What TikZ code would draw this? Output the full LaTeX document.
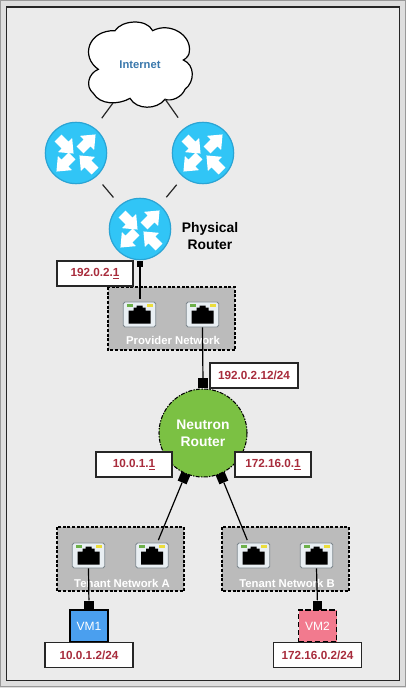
\documentclass[tikz,border=0pt]{standalone}
\usepackage{fontspec}
\setmainfont{Liberation Sans}
\definecolor{pagebg}{HTML}{DEDEDE}
\definecolor{panelbg}{HTML}{EBEBEB}
\definecolor{netbg}{HTML}{BBBBBB}
\definecolor{routerfill}{HTML}{31C5F6}
\definecolor{routerline}{HTML}{2AA4D4}
\definecolor{neutronfill}{HTML}{7BC143}
\definecolor{ipred}{HTML}{A82C3C}
\definecolor{inetblue}{HTML}{3A78AC}
\definecolor{vmblue}{HTML}{4A9FEF}
\definecolor{vmpink}{HTML}{F27A8E}
\definecolor{portfill}{HTML}{E9EFF3}
\definecolor{portline}{HTML}{7C868C}
\definecolor{ledgreen}{HTML}{6DB04A}
\definecolor{ledyellow}{HTML}{EBDD3C}
\tikzset{
  routernode/.style={circle,fill=routerfill,draw=routerline,line width=.9pt,minimum size=46pt,inner sep=0pt},
  neutronnode/.style={circle,fill=neutronfill,draw=black,line width=.8pt,dash pattern=on 3pt off 1pt on 1pt off 1pt,minimum size=66pt,inner sep=0pt},
  neutrontext/.style={font=\bfseries\fontsize{10.4pt}{12.6pt}\selectfont,text=white,align=center},
  iplabel/.style={draw=black!85,fill=white,line width=.9pt,minimum width=#1,minimum height=18.8pt,inner sep=0pt,font=\bfseries\fontsize{8.8pt}{10pt}\selectfont,text=ipred},
  iplabel/.default=57pt,
  netbox/.style={draw=black,fill=netbg,line width=.9pt,dash pattern=on 2.2pt off 1.3pt},
  nettext/.style={font=\bfseries\fontsize{8.5pt}{10pt}\selectfont,text=white},
  portbox/.style={draw=portline,fill=portfill,line width=.6pt,rounded corners=1.4pt,minimum width=24.5pt,minimum height=18.8pt,inner sep=0pt},
  wire/.style={draw=black,line width=.9pt},
  thinwire/.style={draw=black!85,line width=.9pt},
  sqlarge/.style={fill=black,minimum size=7.2pt,inner sep=0pt},
  sqsmall/.style={fill=black,minimum size=4.4pt,inner sep=0pt},
  vmbox/.style={draw=black,line width=.85pt,minimum width=28.5pt,minimum height=24pt,inner sep=0pt,font=\fontsize{9pt}{10pt}\selectfont,text=white},
  boldblack/.style={font=\bfseries\fontsize{10.4pt}{12.8pt}\selectfont,align=center},
}
\newcommand{\routerat}[3]{%
  \node[routernode] (#1) at (#2,#3) {};
  \begin{scope}[shift={(#2,#3)}]
    \foreach \tx/\ty/\rr in {-18/-15/-45, 4/-3/45, -4/3/-135, 19/18/135}{
      \begin{scope}[shift={(\tx,\ty)},rotate=\rr]
        \fill[white] (0,-4.8) -- (10,-4.8) -- (10,-10) -- (22,0) -- (10,10) -- (10,4.8) -- (0,4.8) -- cycle;
      \end{scope}}
  \end{scope}}
\newcommand{\portat}[3]{%
  \node[portbox] (#1) at (#2,#3) {};
  \begin{scope}[shift={(#2,#3)}]
    \fill[ledgreen] (-13,-11) rectangle (-7,-8);
    \fill[ledyellow] (7,-11) rectangle (13,-8);
    \fill[black] (-11,9) -- (-11,-4) -- (-6,-4) -- (-6,-7) -- (-3,-7) -- (-3,-9) -- (3,-9) -- (3,-7) -- (6,-7) -- (6,-4) -- (11,-4) -- (11,9) -- cycle;
  \end{scope}}
\begin{document}
\begin{tikzpicture}[x=.75pt,y=-.75pt]
\useasboundingbox (0,0) rectangle (406,688);
\fill[pagebg] (0,0) rectangle (406,688);
\draw[black!40,line width=.8pt] (0.5,0.5) rectangle (405.5,686.5);
\draw[black!85,fill=panelbg,line width=1.1pt] (6.5,7) rectangle (399.5,680.5);
% cloud
\begin{scope}[shift={(30,10)},x=.25pt,y=-.25pt]
\draw[black,fill=white,line width=.9pt] (205,178)
  .. controls (150,140) and (175,60) .. (255,62)
  .. controls (275,30) and (350,25) .. (368,62)
  .. controls (420,35) and (485,75) .. (478,125)
  .. controls (478,135) and (470,145) .. (460,150)
  .. controls (495,165) and (495,215) .. (465,238)
  .. controls (455,262) and (425,275) .. (405,268)
  .. controls (380,300) and (320,300) .. (300,265)
  .. controls (265,285) and (210,285) .. (190,250)
  .. controls (165,230) and (175,190) .. (205,178) -- cycle;
\end{scope}
\node[font=\bfseries\fontsize{8.4pt}{10pt}\selectfont,text=inetblue] (internet) at (140,65) {Internet};
\coordinate (cloudl) at (113,103);
\coordinate (cloudr) at (165,99);
% routers
\routerat{rleft}{76}{153}
\routerat{rright}{203}{153}
\routerat{rphys}{140}{229}
\draw[thinwire,shorten >=9pt] (cloudl) -- (rleft);
\draw[thinwire,shorten >=9pt] (cloudr) -- (rright);
\draw[thinwire,shorten <=7.5pt,shorten >=7.5pt] (rleft) -- (rphys);
\draw[thinwire,shorten <=7.5pt,shorten >=7.5pt] (rright) -- (rphys);
\node[boldblack] (physlabel) at (210,236.5) {Physical\\Router};
% provider network
\draw[netbox] (108,287) rectangle (235,350);
\node[nettext] (provtext) at (173,340) {Provider Network};
\portat{pa}{139.5}{314.5}
\portat{pb}{202.5}{314.5}
% neutron
\node[neutronnode] (neutron) at (203,433) {};
\node[neutrontext] (neutrontxt) at (203,433) {Neutron\\Router};
% tenant networks
\draw[netbox] (57,527) rectangle (184,591);
\node[nettext] (tatext) at (122,583) {Tenant Network A};
\portat{ta}{88.5}{555.5}
\portat{tb}{152}{555.5}
\draw[netbox] (222,527) rectangle (349,591);
\node[nettext] (tbtext) at (287,583) {Tenant Network B};
\portat{tc}{253.5}{555.5}
\portat{td}{316.5}{555.5}
% VMs
\node[vmbox,fill=vmblue] (vmone) at (89,626) {VM1};
\node[vmbox,fill=vmpink,dash pattern=on 4pt off 2pt] (vmtwo) at (317.5,626) {VM2};
% connector ends
\node[sqsmall] (sqphys) at (140,264) {};
\node[sqlarge] (sqneu) at (203,383) {};
\node[sqlarge,rotate=-23] (sqleft) at (184,478) {};
\node[sqlarge,rotate=23] (sqright) at (222,478) {};
\node[sqlarge] (sqvmone) at (89,605.5) {};
\node[sqlarge] (sqvmtwo) at (317.5,605.5) {};
\draw[wire,shorten >=2.3pt] (sqphys) -- (sqphys |- pa.north);
\draw[wire] (pb.south) -- (sqneu);
\draw[wire,shorten >=2pt] (sqleft) -- (tb);
\draw[wire,shorten >=2pt] (sqright) -- (tc);
\draw[wire] (ta.south) -- (sqvmone);
\draw[wire] (td.south) -- (sqvmtwo);
% address labels
\node[iplabel] (ipphys) at (95,273.5) {192.0.2.\underline{1}};
\node[iplabel=66pt] (ipneu) at (254,375.5) {192.0.2.12/24};
\node[iplabel] (ipa) at (134,464.5) {10.0.1.\underline{1}};
\node[iplabel] (ipb) at (273,464.5) {172.16.0.\underline{1}};
\node[iplabel=66pt] (ipvmone) at (89,655) {10.0.1.2/24};
\node[iplabel=66pt] (ipvmtwo) at (317.5,655) {172.16.0.2/24};
\end{tikzpicture}
\end{document}
